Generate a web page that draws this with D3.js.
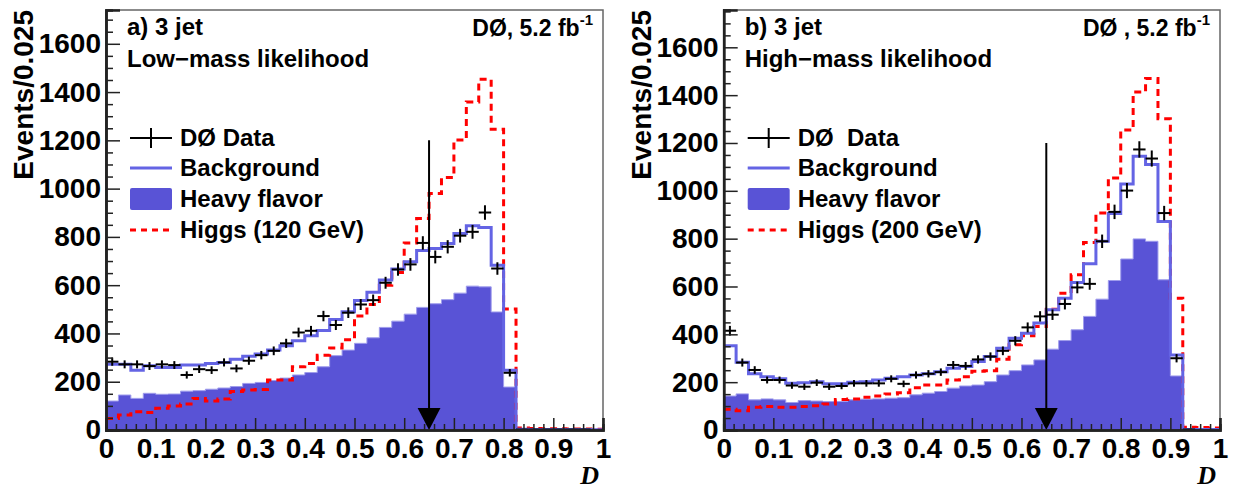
<!DOCTYPE html>
<html>
<head>
<meta charset="utf-8">
<script src="https://cdn.jsdelivr.net/npm/d3@7"></script>
<style>
  body { margin: 0; background: #fff; }
  text { font-family: "Liberation Sans", Arial, Helvetica, sans-serif; font-weight: bold; }
</style>
</head>
<body>
<script>
// 40 bins of width 0.025 on D in [0,1]
var binWidth = 0.025;

// a) low-mass likelihood
var dataA   = [283,272,272,265,272,269,228,252,248,280,255,287,310,328,359,404,411,472,435,486,520,538,610,665,686,775,717,759,805,821,901,669,237,2,2,2,2,2,2,0];
var bkgA    = [272,272,248,266,259,259,269,269,276,280,293,306,315,331,349,370,390,412,458,490,537,571,621,667,697,744,752,773,814,846,839,683,248,3,2,2,2,2,2,1];
var hfA     = [120,145,131,152,148,149,161,163,169,174,180,193,197,205,215,228,238,262,308,331,359,382,425,451,480,508,523,540,567,596,593,489,178,0,0,0,0,0,0,0];
var higgsA  = [48,62,76,72,90,99,108,131,120,128,159,166,168,207,207,262,275,310,340,374,472,520,600,652,775,876,980,1046,1201,1359,1453,1246,501,8,6,5,5,4,4,3];

// b) high-mass likelihood
var dataB   = [415,282,251,209,209,186,181,198,181,184,195,195,195,214,193,230,235,242,272,268,295,307,331,373,429,475,482,527,596,611,789,912,1001,1173,1135,907,300,2,0,0];
var bkgB    = [352,283,235,223,214,195,198,202,193,193,200,202,209,216,223,230,235,244,258,265,286,307,342,384,405,447,503,551,617,695,789,905,1029,1145,1110,872,314,2,2,2];
var hfB     = [142,151,126,130,126,115,123,121,119,119,126,129,130,133,135,147,154,161,175,184,188,202,230,248,272,293,338,374,419,475,547,625,715,799,789,628,226,0,0,0];
var higgsB  = [87,81,95,98,95,95,98,101,109,128,130,137,142,151,156,177,188,188,209,223,246,248,296,356,394,433,505,572,649,784,907,1054,1254,1413,1470,1301,551,12,10,8];

var xTicks = [0,0.1,0.2,0.3,0.4,0.5,0.6,0.7,0.8,0.9,1];
var yTicks = [0,200,400,600,800,1000,1200,1400,1600];
var cutValue = 0.65;
var arrowTop = 1200;

var legendA = ["DØ Data","Background","Heavy flavor","Higgs (120 GeV)"];
var legendB = ["DØ  Data","Background","Heavy flavor","Higgs (200 GeV)"];

var hfColor = "#5953d6", bkgColor = "#6464e4", higgsColor = "#ff0000";

var svg = d3.select("body").append("svg").attr("width",1234).attr("height",491);

function drawPanel(p){
  var x = d3.scaleLinear().domain([0,1]).range([p.left,p.right]);
  var y = d3.scaleLinear().domain([0,p.ymax]).range([430,10]);
  var g = svg.append("g");

  function pts(v){
    var a = v.map((d,i) => [i*binWidth, d]);
    a.push([1, v[v.length-1]]);
    return a;
  }

  // frame
  g.append("rect").attr("x",p.left).attr("y",10).attr("width",p.right-p.left).attr("height",420)
    .attr("fill","none").attr("stroke","#666").attr("stroke-width",1.5);

  // heavy flavor fill
  var area = d3.area().curve(d3.curveStepAfter).x(d => x(d[0])).y0(y(0)).y1(d => y(d[1]));
  g.append("path").datum(pts(p.hf)).attr("d",area).attr("fill",hfColor).attr("stroke","#9f9cec").attr("stroke-width",1);

  var line = d3.line().curve(d3.curveStepAfter).x(d => x(d[0])).y(d => y(d[1]));
  g.append("path").datum(pts(p.higgs)).attr("d",line).attr("fill","none")
    .attr("stroke",higgsColor).attr("stroke-width",3).attr("stroke-dasharray","7,5");
  g.append("path").datum(pts(p.bkg)).attr("d",line).attr("fill","none")
    .attr("stroke",bkgColor).attr("stroke-width",3);

  // data with errors
  var dg = g.append("g").attr("stroke","#000").attr("stroke-width",2);
  p.data.forEach(function(d,i){
    if(d <= 0) return;
    var e = Math.sqrt(d);
    dg.append("line").attr("x1",x(i*binWidth)).attr("x2",x((i+1)*binWidth)).attr("y1",y(d)).attr("y2",y(d));
    dg.append("line").attr("x1",x((i+0.5)*binWidth)).attr("x2",x((i+0.5)*binWidth)).attr("y1",y(d-e)).attr("y2",y(d+e));
  });

  // cut arrow
  g.append("line").attr("x1",x(cutValue)).attr("x2",x(cutValue)).attr("y1",y(arrowTop)).attr("y2",y(60))
    .attr("stroke","#000").attr("stroke-width",2);
  var hw = 0.023, hh = 22*p.ymax/420;
  g.append("path").attr("d","M"+x(cutValue-hw)+","+y(hh)+"L"+x(cutValue+hw)+","+y(hh)+"L"+x(cutValue)+","+y(0)+"Z").attr("fill","#000");

  // axes
  var minorY = d3.range(0,p.ymax,50).filter(v => v%200 != 0);
  var minorX = d3.range(0,51).map(i => i/50).filter((v,i) => i%5 != 0);
  g.append("g").attr("transform","translate("+p.left+",0)")
    .call(d3.axisLeft(y).tickValues(minorY).tickSize(-7).tickFormat(""));
  g.append("g").attr("transform","translate("+p.left+",0)")
    .call(d3.axisLeft(y).tickValues(yTicks).tickSize(-14).tickPadding(5).tickFormat(d3.format("d")));
  g.append("g").attr("transform","translate(0,430)")
    .call(d3.axisBottom(x).tickValues(minorX).tickSize(-6).tickFormat(""));
  g.append("g").attr("transform","translate(0,430)")
    .call(d3.axisBottom(x).tickValues(xTicks).tickSize(-12).tickPadding(8).tickFormat(d3.format("")));
  g.selectAll(".domain").attr("stroke","#222").attr("stroke-width",2.5);
  g.selectAll(".tick line").attr("stroke","#222").attr("stroke-width",1.5);
  g.selectAll(".tick text").attr("font-size",28).attr("font-weight","bold")
    .attr("font-family","Liberation Sans, Arial, sans-serif").attr("fill","#000");

  // titles
  g.append("text").attr("transform","translate("+(p.left-73)+",10) rotate(-90)")
    .attr("text-anchor","end").attr("font-size",28).text("Events/0.025");
  g.append("text").attr("x",p.right-4).attr("y",484).attr("text-anchor","end")
    .style("font-family","Liberation Serif, Times New Roman, serif").style("font-style","italic")
    .attr("font-size",26).text("D");

  g.append("text").attr("x",p.left+21).attr("y",35).attr("font-size",24).text(p.tag);
  g.append("text").attr("x",p.left+21).attr("y",67).attr("font-size",24).text(p.sub);
  var lum = g.append("text").attr("x",p.right-10).attr("y",36).attr("text-anchor","end").attr("font-size",23);
  lum.append("tspan").text(p.lumi);
  lum.append("tspan").attr("font-size",15).attr("dy",-11).text("-1");

  // legend
  var ly = [138,168,199,230];
  var lx0 = p.left+24, lx1 = p.left+66;
  g.append("line").attr("x1",lx0).attr("x2",lx1).attr("y1",ly[0]).attr("y2",ly[0]).attr("stroke","#000").attr("stroke-width",2);
  g.append("line").attr("x1",(lx0+lx1)/2).attr("x2",(lx0+lx1)/2).attr("y1",ly[0]-10).attr("y2",ly[0]+10).attr("stroke","#000").attr("stroke-width",2);
  g.append("line").attr("x1",lx0).attr("x2",lx1).attr("y1",ly[1]).attr("y2",ly[1]).attr("stroke",bkgColor).attr("stroke-width",3);
  g.append("rect").attr("x",lx0).attr("y",ly[2]-11).attr("width",lx1-lx0).attr("height",22).attr("rx",2).attr("fill",hfColor);
  g.append("line").attr("x1",lx0).attr("x2",lx1).attr("y1",ly[3]).attr("y2",ly[3]).attr("stroke",higgsColor).attr("stroke-width",3).attr("stroke-dasharray","6,5");
  p.legend.forEach(function(t,i){
    g.append("text").attr("x",p.left+74).attr("y",ly[i]+8).attr("font-size",24).style("white-space","pre").text(t);
  });
}

drawPanel({left:106, right:603, ymax:1740, data:dataA, bkg:bkgA, hf:hfA, higgs:higgsA,
  tag:"a) 3 jet", sub:"Low\u2212mass likelihood", lumi:"DØ, 5.2 fb", legend:legendA});
drawPanel({left:723.7, right:1220, ymax:1756, data:dataB, bkg:bkgB, hf:hfB, higgs:higgsB,
  tag:"b) 3 jet", sub:"High\u2212mass likelihood", lumi:"DØ , 5.2 fb", legend:legendB});
</script>
</body>
</html>
